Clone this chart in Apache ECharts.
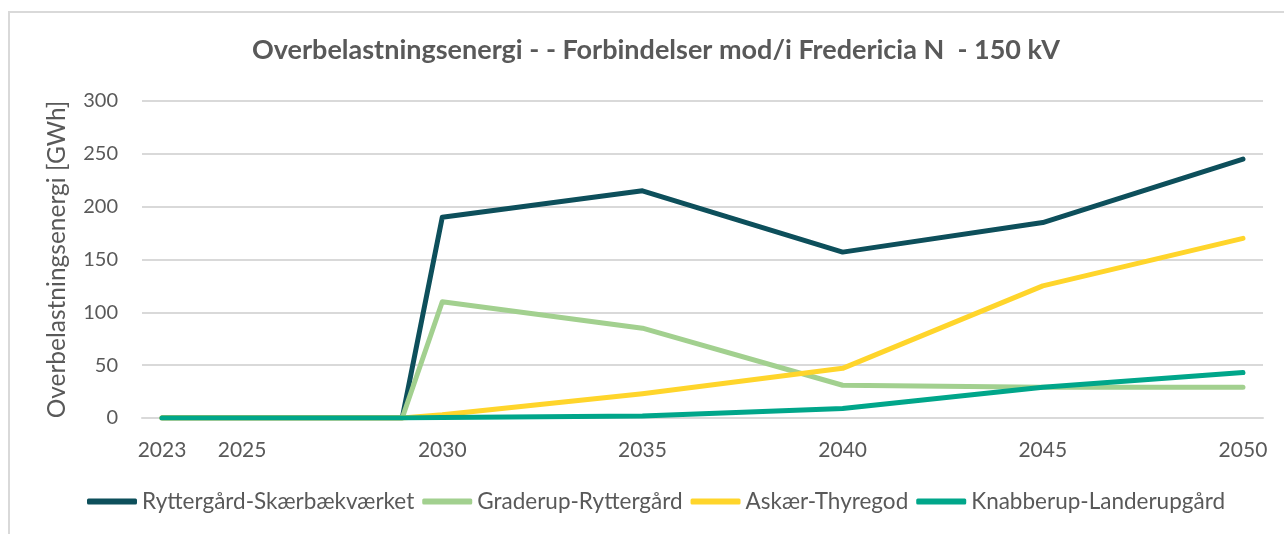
<!DOCTYPE html>
<html>
<head>
    <meta charset="utf-8">
    <title>Overbelastningsenergi</title>
    <script src="https://cdn.jsdelivr.net/npm/echarts@6/dist/echarts.min.js"></script>
    <style>
        html, body { margin: 0; padding: 0; background: #fff; }
        #frame { position: absolute; left: 8px; top: 11px; width: 1276px; height: 523px;
                 border-left: 2px solid #d9d9d9; border-top: 2px solid #d9d9d9; }
        #main { position: absolute; left: 0; top: 0; width: 1284px; height: 534px; }
    </style>
</head>
<body>
<div id="frame"></div>
<div id="main"></div>

<script type="text/javascript">
    // data
    var years = [2023, 2025, 2029, 2030, 2035, 2040, 2045, 2050];
    var yearLabels = [2023, 2025, 2030, 2035, 2040, 2045, 2050];
    var seriesNames = ['Ryttergård-Skærbækværket', 'Graderup-Ryttergård', 'Askær-Thyregod', 'Knabberup-Landerupgård'];
    var rytterSkaer = [0, 0, 0, 190, 215, 157, 185, 245];
    var gradRytter = [0, 0, 0, 110, 85, 31, 29, 29];
    var askaerThy = [0, 0, 0, 3, 23, 47, 125, 170];
    var knabLander = [0, 0, 0, 0.5, 2, 9, 29, 43];
    var colors = ['#0d4f5b', '#a2d08f', '#ffd52b', '#00a68a'];

    function pairs(vals) {
        var out = [];
        for (var i = 0; i < years.length; i++) out.push([years[i], vals[i]]);
        return out;
    }

    var myChart = echarts.init(document.getElementById('main'));
    var textCol = '#595959';
    var font = 'Lato';

    var series = [rytterSkaer, gradRytter, askaerThy, knabLander].map(function (v, i) {
        return {
            name: seriesNames[i],
            type: 'line',
            data: pairs(v),
            symbol: 'none',
            lineStyle: { width: 5, color: colors[i], cap: 'round', join: 'round' },
            itemStyle: { color: colors[i] },
            z: 2 + i
        };
    });

    var option = {
        animation: false,
        title: {
            text: 'Overbelastningsenergi - - Forbindelser mod/i Fredericia N  - 150 kV',
            left: 247,
            top: 32,
            textStyle: { color: textCol, fontSize: 27, fontWeight: 'bold', fontFamily: font }
        },
        legend: {
            bottom: 16,
            left: 82,
            itemWidth: 50,
            itemHeight: 6,
            itemGap: 8,
            icon: 'roundRect',
            textStyle: { color: textCol, fontSize: 22.5, fontFamily: font },
            data: seriesNames
        },
        grid: { left: 142, right: 21, top: 101, bottom: 116 },
        xAxis: {
            type: 'value',
            min: 2022.5,
            max: 2050.5,
            interval: 0.5,
            axisLine: { show: true, lineStyle: { color: '#d9d9d9', width: 2 } },
            axisTick: { show: false },
            splitLine: { show: false },
            axisLabel: {
                color: textCol,
                fontSize: 21,
                fontFamily: font,
                margin: 22,
                showMinLabel: false,
                showMaxLabel: false,
                formatter: function (v) {
                    return yearLabels.indexOf(v) >= 0 ? String(v) : '';
                }
            }
        },
        yAxis: {
            type: 'value',
            min: 0,
            max: 300,
            interval: 50,
            name: 'Overbelastningsenergi [GWh]',
            nameLocation: 'middle',
            nameGap: 72,
            nameTextStyle: { color: textCol, fontSize: 24.5, fontFamily: font },
            axisLine: { show: false },
            axisTick: { show: false },
            axisLabel: { color: textCol, fontSize: 20, fontFamily: font, margin: 24 },
            splitLine: { lineStyle: { color: '#d9d9d9', width: 2 } }
        },
        series: series
    };

    myChart.setOption(option);
</script>
</body>
</html>
